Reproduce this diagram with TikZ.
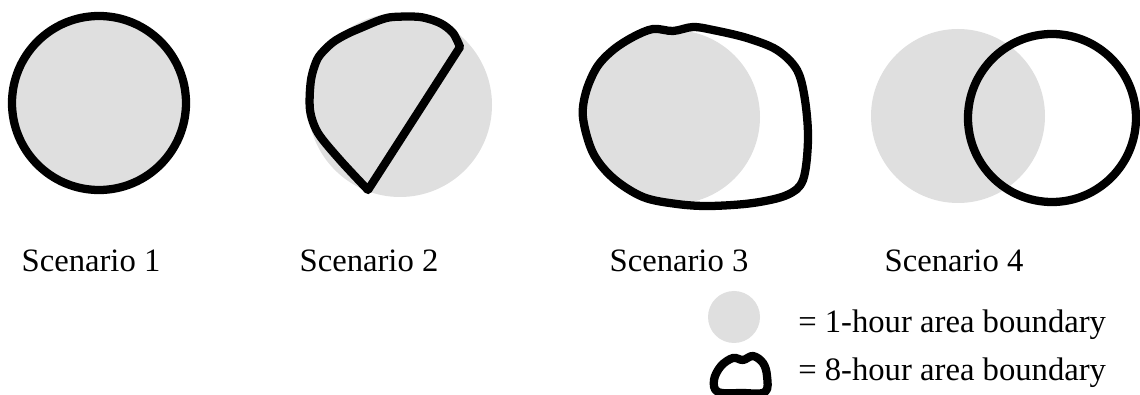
\documentclass[tikz,border=0pt]{standalone}
\usepackage{fontspec}
\setmainfont{Liberation Serif}
\usepackage{tikz}
\tikzset{
  onehour/.style={fill=hourgray, draw=none},
  eighthour/.style={draw=black, line width=6.2pt, line join=round},
  scenlabel/.style={anchor=base, inner sep=0pt, font=\fontsize{24.5}{29}\selectfont},
  legtext/.style={anchor=base west, inner sep=0pt, font=\fontsize{24.5}{29}\selectfont}
}
\definecolor{hourgray}{RGB}{223,223,223}
\begin{document}
\begin{tikzpicture}[x=0.75pt, y=-0.75pt]
  \useasboundingbox (0,0) rectangle (1140,395);
  % scenario 1
  \fill[onehour] (99,103) circle (88);
  \draw[eighthour] (99,103) circle (87);
  % scenario 2
  \fill[onehour] (400,105) circle (92);
  \draw[eighthour] plot[smooth, tension=0.5] coordinates {
    (368,190) (340,160) (318,133) (310,110) (311,80) (318,58) (332,43)
    (347,34) (363,27) (380,20) (393,17) (420,17) (440,23) (453,33) (460,47)} -- cycle;
  % scenario 3
  \fill[onehour] (673,117) circle (87);
  \draw[eighthour] plot[smooth cycle, tension=0.55] coordinates {
    (583,118) (586,92) (597,67) (613,50) (633,37) (653,29) (673,31)
    (693,27) (713,30) (747,38) (777,50) (797,70) (805,100) (808,140)
    (803,180) (787,195) (753,203) (710,206) (677,204) (643,197)
    (613,178) (593,153)};
  % scenario 4
  \fill[onehour] (958,116) circle (87);
  \draw[eighthour] (1052,118) circle (84);
  % labels
  \node[scenlabel] (s1) at (91,272) {Scenario 1};
  \node[scenlabel] (s2) at (369,272) {Scenario 2};
  \node[scenlabel] (s3) at (679,272) {Scenario 3};
  \node[scenlabel] (s4) at (954,272) {Scenario 4};
  % legend
  \fill[onehour] (734,317) circle (26);
  \draw[eighthour] plot[smooth cycle, tension=0.6] coordinates {
    (718,392) (714,380) (721,366) (733,358) (743,360) (753,356)
    (763,363) (767,376) (765,392) (742,393)};
  \node[legtext] (l1) at (798,333) {= 1-hour area boundary};
  \node[legtext] (l2) at (798,381) {= 8-hour area boundary};
\end{tikzpicture}
\end{document}
